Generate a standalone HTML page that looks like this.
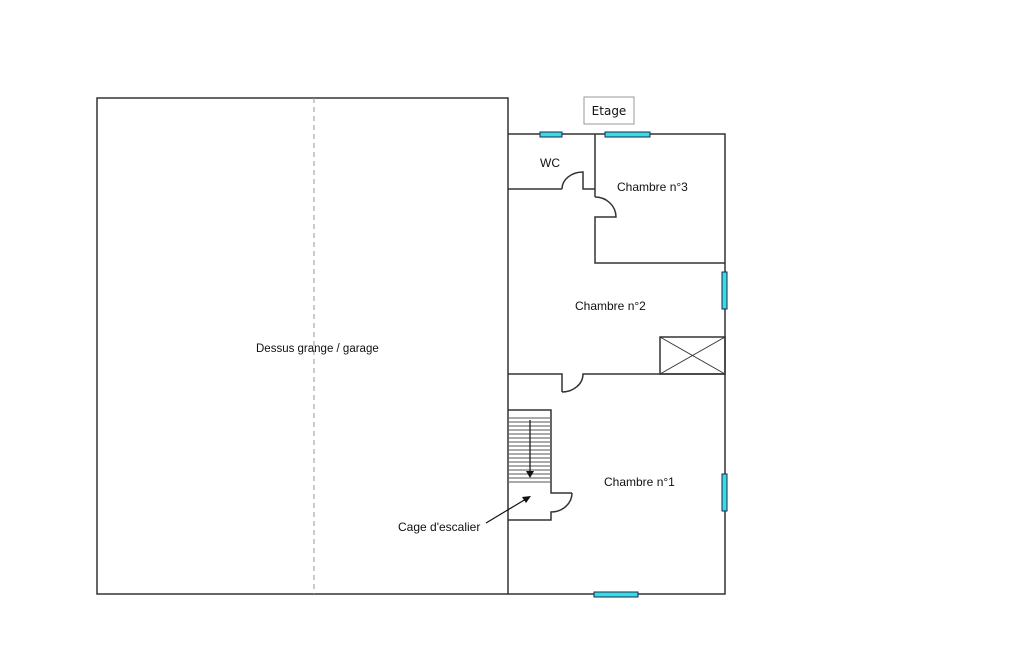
<!DOCTYPE html>
<html><head><meta charset="utf-8"><style>
html,body{margin:0;padding:0;background:#fff;width:1025px;height:650px;overflow:hidden}
svg{display:block}
text{font-family:"Liberation Sans",sans-serif;fill:#111}
</style></head><body>
<svg width="1025" height="650" viewBox="0 0 1025 650">
<g fill="none" stroke="#333" stroke-width="1.5">
<rect x="97" y="98" width="411" height="496"/>
<line x1="314" y1="98" x2="314" y2="594" stroke="#999" stroke-width="1" stroke-dasharray="5,4"/>
<polyline points="508,134 725,134 725,594 508,594"/>
<polyline points="508,189 562,189"/>
<path d="M562,189 A21,17 0 0 1 583,172 L583,189 L595,189"/>
<polyline points="595,134 595,197"/>
<path d="M595,197 A21,20 0 0 1 616,217 L595,217 L595,263 L725,263"/>
<polyline points="508,374 562,374 562,392"/>
<path d="M562,392 A21,18 0 0 0 583,374 L725,374"/>
<rect x="660" y="337" width="65" height="37"/>
<line x1="660" y1="337" x2="725" y2="374" stroke-width="1"/>
<line x1="725" y1="337" x2="660" y2="374" stroke-width="1"/>
<polyline points="508,410 551,410 551,493 572,493"/>
<path d="M572,493 A21,19 0 0 1 551,512 L551,520 L508,520"/>
</g>
<g stroke="#777" stroke-width="1.2">
<line x1="509" y1="418" x2="550" y2="418"/><line x1="509" y1="422" x2="550" y2="422"/><line x1="509" y1="426" x2="550" y2="426"/><line x1="509" y1="430" x2="550" y2="430"/><line x1="509" y1="434" x2="550" y2="434"/><line x1="509" y1="438" x2="550" y2="438"/><line x1="509" y1="442" x2="550" y2="442"/><line x1="509" y1="446" x2="550" y2="446"/><line x1="509" y1="450" x2="550" y2="450"/><line x1="509" y1="454" x2="550" y2="454"/><line x1="509" y1="458" x2="550" y2="458"/><line x1="509" y1="462" x2="550" y2="462"/><line x1="509" y1="466" x2="550" y2="466"/><line x1="509" y1="470" x2="550" y2="470"/><line x1="509" y1="474" x2="550" y2="474"/><line x1="509" y1="478" x2="550" y2="478"/><line x1="509" y1="482" x2="550" y2="482"/>
</g>
<line x1="530" y1="420" x2="530" y2="472" stroke="#111" stroke-width="1.2"/>
<polygon points="526,471 534,471 530,478" fill="#111"/>
<line x1="486" y1="523" x2="526" y2="499" stroke="#111" stroke-width="1.2"/>
<polygon points="531,496 522,497 526,503" fill="#111"/>
<g fill="#33e0e0" stroke="#225" stroke-width="1">
<rect x="540" y="132" width="22" height="5"/>
<rect x="605" y="132" width="45" height="5"/>
<rect x="722" y="272" width="5" height="37"/>
<rect x="722" y="474" width="5" height="37"/>
<rect x="594" y="592" width="44" height="5"/>
</g>
<rect x="584" y="97" width="50" height="27" fill="#fff" stroke="#999" stroke-width="1"/>
<text x="609" y="115" text-anchor="middle" style="font-family:'DejaVu Sans',sans-serif;font-size:12px">Etage</text>
<text x="540" y="167" font-size="12">WC</text>
<text x="617" y="191" font-size="12">Chambre n°3</text>
<text x="575" y="310" font-size="12">Chambre n°2</text>
<text x="604" y="486" font-size="12">Chambre n°1</text>
<text x="398" y="531" font-size="12">Cage d'escalier</text>
<text x="256" y="352" font-size="11.5">Dessus grange / garage</text>
</svg>
</body></html>
